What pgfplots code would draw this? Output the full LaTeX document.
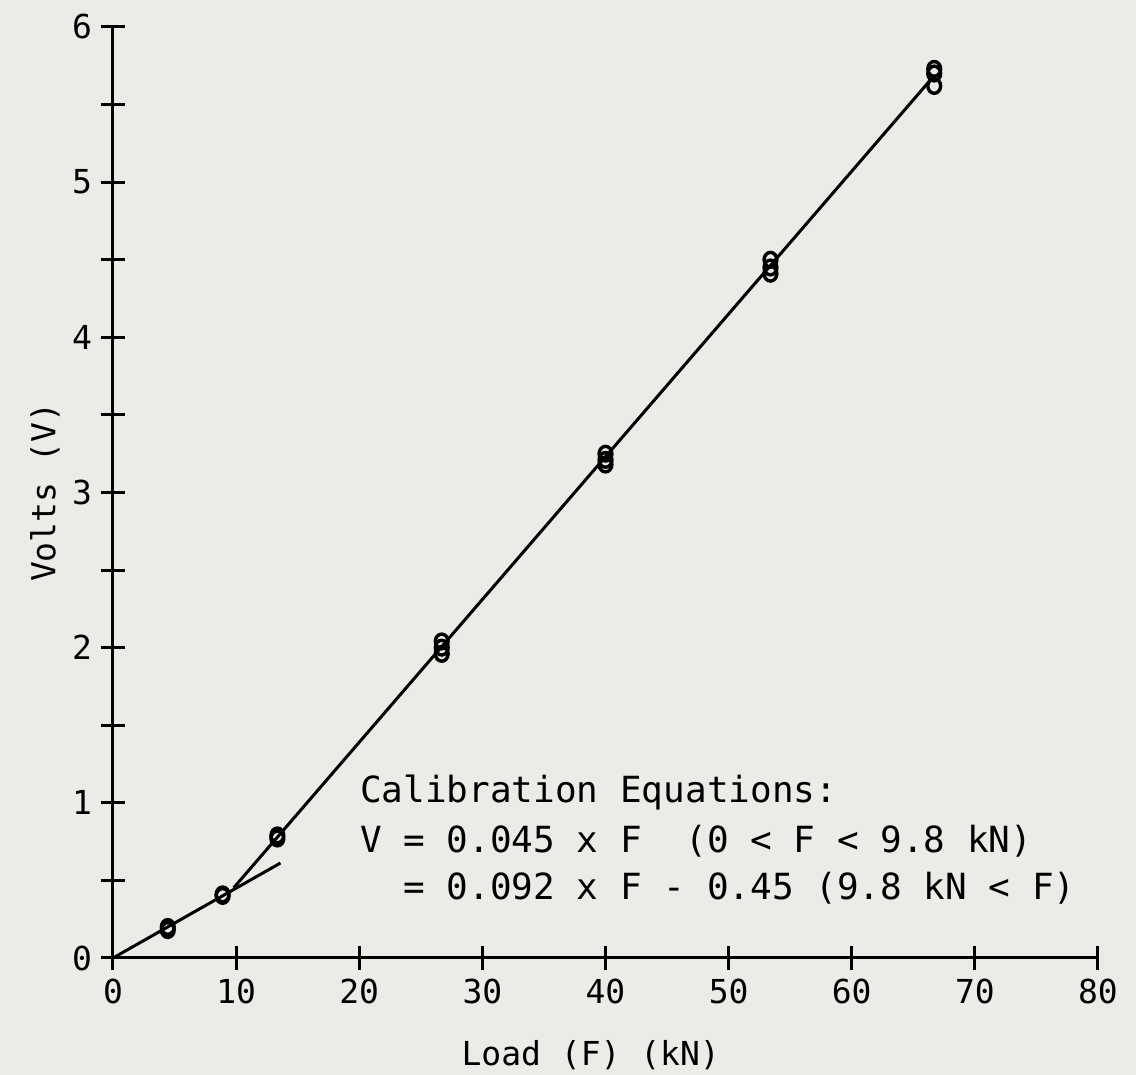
\documentclass[border=0pt]{standalone}
\usepackage{fontspec}
\setmainfont{DejaVu Sans Mono}
\usepackage{pgfplots}
\pgfplotsset{compat=1.18}
\definecolor{bg}{HTML}{EDEBE7}
\begin{document}
\begin{tikzpicture}
\path[use as bounding box, fill=bg] (-56.5pt,-58.5pt) rectangle (511.5pt,479pt);
\begin{axis}[
 at={(0,0)}, anchor=south west, scale only axis,
 width=492.5pt, height=465.5pt,
 xmin=0, xmax=80, ymin=0, ymax=6,
 axis x line=bottom, axis y line=left,
 axis line style={-, line width=1.5pt, black},
 xtick={0,10,...,80}, ytick={0,1,...,6}, minor ytick={0.5,1.5,...,5.5},
 tick align=center, major tick length=12pt, minor tick length=12pt,
 every major tick/.append style={line width=1.5pt, black},
 every minor tick/.append style={line width=1.5pt, black},
 tick label style={font=\fontsize{16.5}{19}\selectfont},
 yticklabel style={xshift=-1pt},
 xticklabel style={yshift=-1pt},
 /pgf/number format/assume math mode=true,
 label style={font=\fontsize{16.5}{19}\selectfont},
 xlabel={Load (F) (kN)}, ylabel={Volts (V)},
 xlabel style={at={(axis description cs:0.485,0)}, anchor=center, yshift=-48.5pt},
 ylabel style={at={(axis description cs:-0.069,0.5)}, anchor=center},
 clip=false,
]
\addplot[line width=1.5pt, black] coordinates {(0,0) (13.6,0.612)};
\addplot[line width=1.5pt, black] coordinates {(9.8,0.452) (66.3,5.65)};
\addplot[only marks, mark=o, mark size=3.2pt, mark options={line width=1.7pt, yscale=1.15, black}] coordinates {
(4.45,0.18) (4.45,0.20)
(8.9,0.40) (8.9,0.41)
(13.35,0.77) (13.35,0.79)
(26.7,1.96) (26.7,2.00) (26.7,2.04)
(40.0,3.18) (40.0,3.21) (40.0,3.25)
(53.4,4.41) (53.4,4.45) (53.4,4.50)
(66.7,5.62) (66.7,5.70) (66.7,5.73)
};
\node[anchor=base west, font=\fontsize{18}{22}\selectfont, inner sep=0pt] at (axis cs:20.05,1.005) {Calibration Equations:};
\node[anchor=base west, font=\fontsize{18}{22}\selectfont, inner sep=0pt] at (axis cs:20.05,0.683) {V = 0.045 x F\ \ (0 < F < 9.8 kN)};
\node[anchor=base west, font=\fontsize{18}{22}\selectfont, inner sep=0pt] at (axis cs:20.05,0.374) {\phantom{V\ }= 0.092 x F - 0.45 (9.8 kN < F)};
\end{axis}
\end{tikzpicture}
\end{document}
